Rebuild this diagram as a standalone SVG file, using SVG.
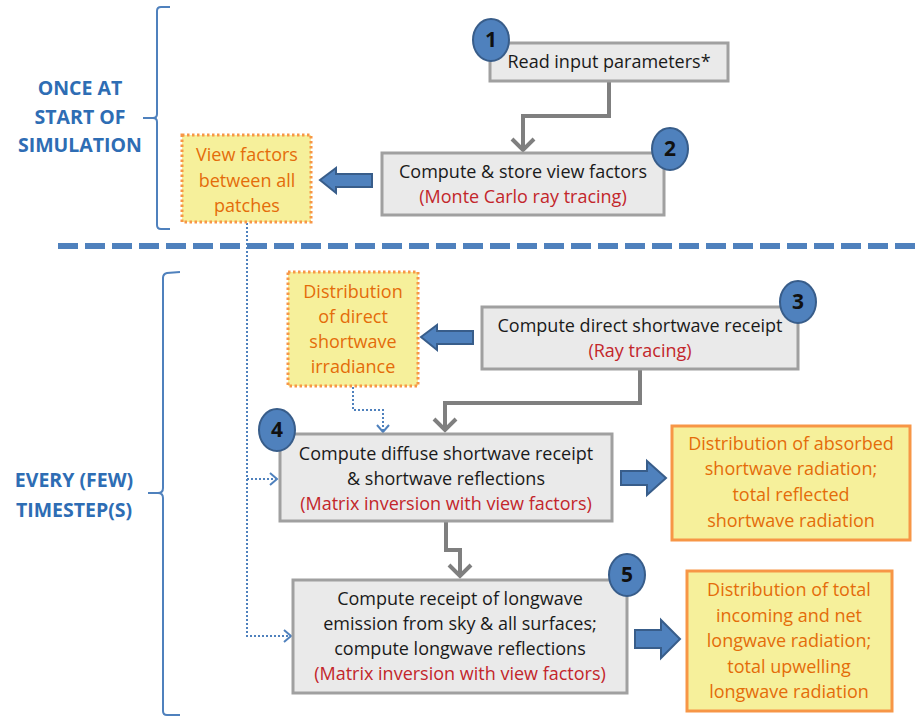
<svg xmlns="http://www.w3.org/2000/svg" width="915" height="717" viewBox="0 0 915 717">
<defs>
<style>
text{font-family:"Open Sans","Noto Sans","Liberation Sans",sans-serif;text-anchor:middle}
.t{font-size:18px;fill:#1a1a1a}
.r{font-size:18px;fill:#C3262B}
.o{font-size:18px;fill:#E46C0A}
.lab{font-size:19.5px;font-weight:bold;fill:#2E6DB4}
.num{font-size:21px;font-weight:bold;fill:#111}
.box{fill:#EAEAEA;stroke:#A0A0A0;stroke-width:3}
.ybd{fill:#F6F09B;stroke:#F79646;stroke-width:3;stroke-dasharray:2.5 2.5}
.ybs{fill:#F6F09B;stroke:#F79646;stroke-width:3}
.circ{fill:#4F81BD;stroke:#385D8A;stroke-width:2}
.gc{fill:none;stroke:#7F7F7F;stroke-width:4}
.dc{fill:none;stroke:#4F81BD;stroke-width:2;stroke-dasharray:2 2}
.dh{fill:none;stroke:#4F81BD;stroke-width:2}
.barrow{fill:#4F81BD;stroke:#385D8A;stroke-width:2}
.brace{fill:none;stroke:#4F81BD;stroke-width:2}
</style>
</defs>

<g id="brace-once">
<path class="brace" d="M170,7 L161,7 Q157,7 157,11 L157,114 Q157,118 153,118 L143,118 M153,118 Q157,118 157,122 L157,225 Q157,229 161,229 L170,229"/>
<text class="lab" x="80" y="95">ONCE AT</text>
<text class="lab" x="80" y="124">START OF</text>
<text class="lab" x="80" y="152">SIMULATION</text>
</g>
<g id="brace-every">
<path class="brace" d="M180,272 L167,273 Q163,274 163,278 L163,488 Q163,493 158,493 L148,493 M158,493 Q163,493 163,498 L163,711 Q163,715 167,715 L180,715"/>
<text class="lab" x="74" y="487">EVERY (FEW)</text>
<text class="lab" x="74" y="517">TIMESTEP(S)</text>
</g>

<line x1="58" y1="246" x2="915" y2="246" stroke="#4F81BD" stroke-width="6" stroke-dasharray="20 7"/>

<g id="connectors">
<path class="gc" d="M609,81 L609,116 L523,116 L523,150"/>
<path class="gc" d="M512,139 L523,150 L534,139"/>
<path class="gc" d="M640,369 L640,403 L445,403 L445,430"/>
<path class="gc" d="M434,419 L445,430 L456,419"/>
<path class="gc" d="M446,521 L446,550 L460,550 L460,576"/>
<path class="gc" d="M449,565 L460,576 L471,565"/>
<path class="dc" d="M247,223 L247,636 L289,636"/>
<path class="dc" d="M247,479 L276,479"/>
<path class="dh" d="M270,473 L277,479 L270,485"/>
<path class="dh" d="M284,630 L291,636 L284,642"/>
<path class="dc" d="M353,387 L353,410 L383,410 L383,431"/>
<path class="dh" d="M377,425 L383,432 L389,425"/>
<path class="barrow" d="M372,174 L336,174 L336,168 L320,180 L336,193 L336,187 L372,187 Z"/>
<path class="barrow" d="M473,331 L437,331 L437,325 L421,337 L437,350 L437,344 L473,344 Z"/>
<path class="barrow" d="M621,471 L647,471 L647,461 L666,478 L647,495 L647,485 L621,485 Z"/>
<path class="barrow" d="M635,630 L661,630 L661,620 L680,639 L661,658 L661,648 L635,648 Z"/>
</g>

<g id="node1">
<rect class="box" x="490" y="43" width="238" height="38"/>
<text class="t" x="609" y="68">Read input parameters*</text>
<ellipse class="circ" cx="491" cy="40" rx="18" ry="21"/>
<text class="num" x="491" y="47">1</text>
</g>

<g id="node2">
<rect class="box" x="382" y="153" width="282" height="62"/>
<text class="t" x="523" y="178">Compute &amp; store view factors</text>
<text class="r" x="523" y="203">(Monte Carlo ray tracing)</text>
<ellipse class="circ" cx="670" cy="149" rx="18" ry="21"/>
<text class="num" x="670" y="156">2</text>
</g>

<g id="viewfactors">
<rect class="ybd" x="182" y="135" width="129" height="87"/>
<text class="o" x="247" y="161">View factors</text>
<text class="o" x="247" y="187">between all</text>
<text class="o" x="247" y="212">patches</text>
</g>

<g id="direct-dist">
<rect class="ybd" x="288" y="272" width="130" height="114"/>
<text class="o" x="353" y="298">Distribution</text>
<text class="o" x="353" y="323">of direct</text>
<text class="o" x="353" y="348">shortwave</text>
<text class="o" x="353" y="373">irradiance</text>
</g>

<g id="node3">
<rect class="box" x="482" y="307" width="316" height="62"/>
<text class="t" x="640" y="332">Compute direct shortwave receipt</text>
<text class="r" x="640" y="357">(Ray tracing)</text>
<ellipse class="circ" cx="798" cy="302" rx="18" ry="21"/>
<text class="num" x="798" y="309">3</text>
</g>

<g id="node4">
<rect class="box" x="280" y="434" width="332" height="87"/>
<text class="t" x="446" y="460">Compute diffuse shortwave receipt</text>
<text class="t" x="446" y="485">&amp; shortwave reflections</text>
<text class="r" x="446" y="510">(Matrix inversion with view factors)</text>
<ellipse class="circ" cx="277" cy="430" rx="18" ry="21"/>
<text class="num" x="277" y="437">4</text>
</g>

<g id="out-sw">
<rect class="ybs" x="672" y="426" width="238" height="114"/>
<text class="o" x="791" y="450">Distribution of absorbed</text>
<text class="o" x="791" y="475">shortwave radiation;</text>
<text class="o" x="791" y="501">total reflected</text>
<text class="o" x="791" y="527">shortwave radiation</text>
</g>

<g id="node5">
<rect class="box" x="293" y="580" width="334" height="113"/>
<text class="t" x="460" y="605">Compute receipt of longwave</text>
<text class="t" x="460" y="630">emission from sky &amp; all surfaces;</text>
<text class="t" x="460" y="655">compute longwave reflections</text>
<text class="r" x="460" y="680">(Matrix inversion with view factors)</text>
<ellipse class="circ" cx="627" cy="575" rx="18" ry="21"/>
<text class="num" x="627" y="582">5</text>
</g>

<g id="out-lw">
<rect class="ybs" x="687" y="571" width="205" height="140"/>
<text class="o" x="789" y="596">Distribution of total</text>
<text class="o" x="789" y="622">incoming and net</text>
<text class="o" x="789" y="647">longwave radiation;</text>
<text class="o" x="789" y="673">total upwelling</text>
<text class="o" x="789" y="698">longwave radiation</text>
</g>
</svg>
